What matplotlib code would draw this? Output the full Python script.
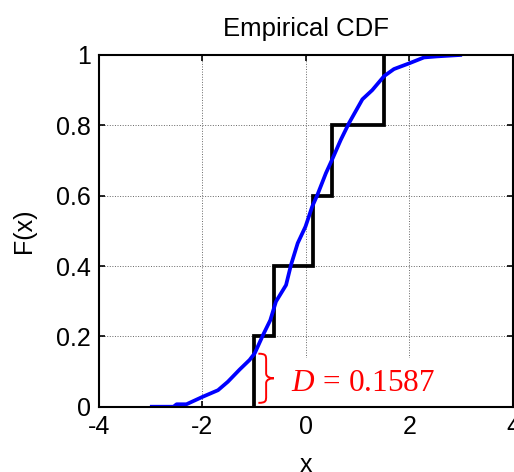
import numpy as np
import matplotlib
matplotlib.use('Agg')
import matplotlib.pyplot as plt
from matplotlib.path import Path
from matplotlib.patches import PathPatch

plt.rcParams['font.family'] = ['Liberation Sans', 'DejaVu Sans']
plt.rcParams['mathtext.fontset'] = 'custom'
plt.rcParams['mathtext.rm'] = 'Liberation Serif'
plt.rcParams['mathtext.it'] = 'Liberation Serif:italic'
plt.rcParams['axes.unicode_minus'] = False

# sample points of the empirical CDF (black steps)
samples = [-1.0, -0.61, 0.13, 0.50, 1.51]

# reference CDF
cdf_x = [-2.98, -2.56, -2.50, -2.31, -2.0, -1.70, -1.51, -1.28, -1.09, -0.99,
         -0.83, -0.69, -0.58, -0.385, -0.29, -0.16, -0.01, 0.12, 0.22, 0.385,
         0.50, 0.67, 0.83, 1.09, 1.28, 1.51, 1.70, 1.99, 2.28, 2.53, 2.98]
cdf_y = [0.0, 0.0, 0.007, 0.007, 0.028, 0.047, 0.071, 0.106, 0.133, 0.152,
         0.204, 0.246, 0.299, 0.346, 0.403, 0.465, 0.512, 0.569, 0.602, 0.664,
         0.701, 0.758, 0.806, 0.874, 0.900, 0.940, 0.960, 0.976, 0.993, 0.996, 1.0]

D = 0.1587
xticks = [-4, -2, 0, 2, 4]
yticks = [0, 0.2, 0.4, 0.6, 0.8, 1]


def brace(ax, x0, y0, y1, w, **kw):
    ym = (y0 + y1) / 2
    h = y1 - y0
    xs = x0 + w * 0.5
    verts = [(x0, y1),
             (xs, y1), (xs, y1 - h * 0.04), (xs, y1 - h * 0.14),
             (xs, ym + h * 0.1),
             (xs, ym + h * 0.02), (x0 + w * 0.8, ym), (x0 + w, ym),
             (x0 + w * 0.8, ym), (xs, ym - h * 0.02), (xs, ym - h * 0.1),
             (xs, y0 + h * 0.14),
             (xs, y0 + h * 0.04), (xs, y0), (x0, y0)]
    codes = [Path.MOVETO] + [Path.CURVE4] * 3 + [Path.LINETO] + [Path.CURVE4] * 6 + \
            [Path.LINETO] + [Path.CURVE4] * 3
    ax.add_patch(PathPatch(Path(verts, codes), fill=False, **kw))


fig = plt.figure(figsize=(5.14, 4.72), dpi=100)
ax = fig.add_axes([0.1926, 0.1383, 0.8054, 0.7452])

n = len(samples)
F = np.arange(1, n + 1) / n
xs = np.repeat(samples, 2)
ys = np.r_[0, np.repeat(F, 2)[:-1]]
ax.plot(xs, ys, color='black', lw=2.7, solid_joinstyle='miter', zorder=2)
ax.plot(cdf_x, cdf_y, color='blue', lw=2.7, zorder=2.2)

brace(ax, samples[0] + 0.08, 0.011, D - 0.008, 0.3, color='red', lw=1.4)
ax.text(samples[0] + 0.72, 0.045, r'$D\,=\,%.4f$' % D, color='red', fontsize=22.5,
        va='baseline', ha='left', zorder=1.5,
        bbox=dict(boxstyle='square,pad=0.32', fc='white', ec='none'))

ax.set_xlim(-4, 4)
ax.set_ylim(0, 1)
ax.set_xticks(xticks)
ax.set_yticks(yticks)
ax.set_yticklabels(['0', '0.2', '0.4', '0.6', '0.8', '1'])
ax.set_axisbelow(True)
ax.grid(True, ls=':', lw=0.7, color='0.4')
ax.tick_params(direction='in', length=4, width=1.2, top=True, right=True,
               labelsize=18, pad=6)
for s in ax.spines.values():
    s.set_linewidth(1.5)

ax.set_title('Empirical CDF', fontsize=18.5, pad=14)
ax.set_xlabel('x', fontsize=18, labelpad=10)
ax.set_ylabel('F(x)', fontsize=18, labelpad=14)

fig.savefig('out.png', dpi=100)
